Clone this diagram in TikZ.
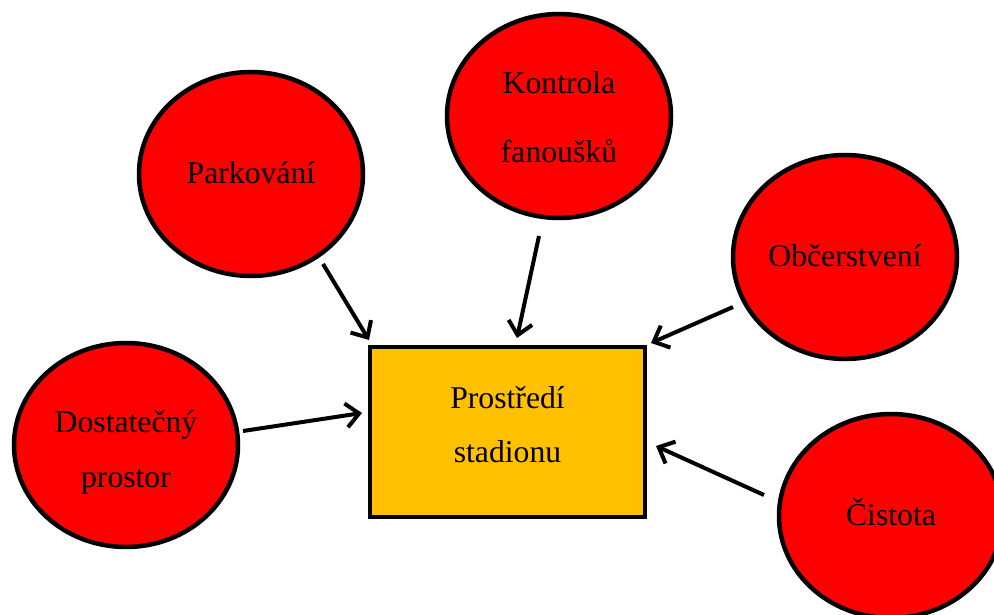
\documentclass[tikz,border=0pt]{standalone}
\usepackage{fontspec}
\setmainfont{Liberation Serif}
\usetikzlibrary{arrows.meta}
\usetikzlibrary{shapes.geometric}
\definecolor{boxyellow}{HTML}{FFC000}
\definecolor{ballred}{HTML}{FF0000}

\tikzset{
  factor/.style={ellipse, draw=black, line width=4.5pt, fill=ballred,
    minimum width=224pt, minimum height=204pt, inner sep=0pt, align=center,
    font=\fontsize{31.7}{55}\selectfont, text height=19pt, text depth=0pt},
  target/.style={rectangle, draw=black, line width=4.5pt, fill=boxyellow,
    minimum width=275pt, minimum height=170pt, inner sep=0pt, align=center,
    font=\fontsize{31.7}{54}\selectfont, text depth=0pt},
  arr/.style={-{Straight Barb[length=13pt,width=24pt]}, line width=4pt}
}

\begin{document}
\begin{tikzpicture}[x=1pt,y=-1pt]
			\useasboundingbox (0,0) rectangle (994,615);
			\clip (0,0) rectangle (994,615);
			% the centre box
			\node[target, text height=60pt] (stadium) at (507.5,432) {Prostředí\\stadionu};
			% factors around it
			\node[factor] (park) at (251,174) {Parkování};
			\node[factor, text height=94pt] (fans) at (559,116) {Kontrola\\[15pt]fanoušků};
			\node[factor] (food) at (845,257) {Občerstvení};
			\node[factor, text height=84pt] (space) at (126,445) {Dostatečný\\prostor};
			\node[factor] (clean) at (891,516) {Čistota};
			
			% arrow ends
			\coordinate (park-out) at (323,264);
			\coordinate (park-in) at (369,340);
			\coordinate (fans-out) at (539,236);
			\coordinate (fans-in) at (517,338);
			\coordinate (food-out) at (733,307);
			\coordinate (food-in) at (651,343);
			\coordinate (space-out) at (243,431);
			\coordinate (space-in) at (362,413);
			\coordinate (clean-out) at (764,495);
			\coordinate (clean-in) at (656,446);
			
			\draw[arr] (park-out) -- (park-in);
			\draw[arr] (fans-out) -- (fans-in);
			\draw[arr] (food-out) -- (food-in);
			\draw[arr] (space-out) -- (space-in);
			\draw[arr] (clean-out) -- (clean-in);
		\end{tikzpicture}
\end{document}
